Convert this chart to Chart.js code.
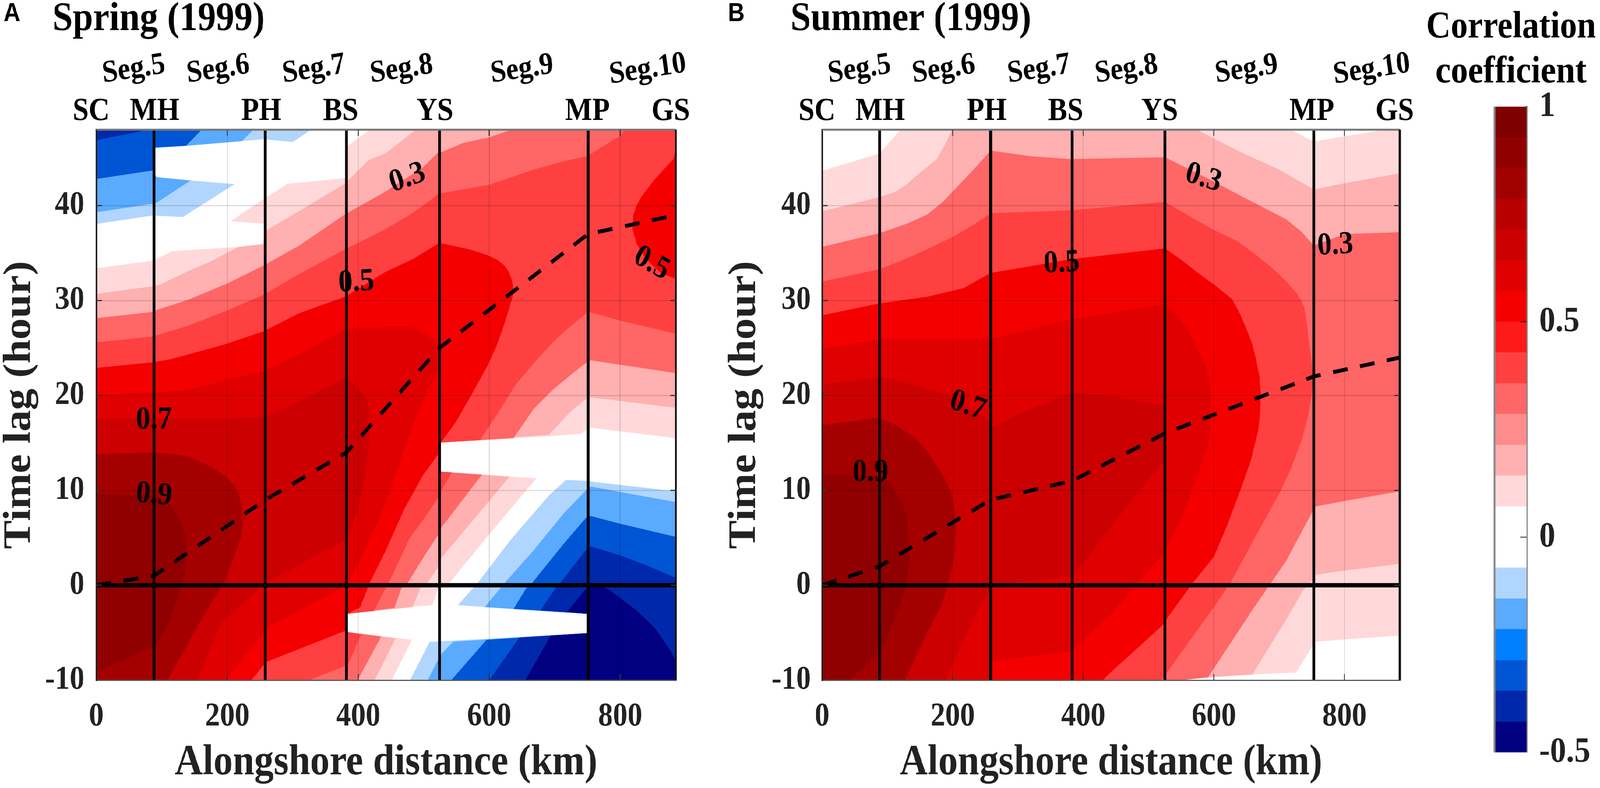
<!DOCTYPE html>
<html>
<head>
<meta charset="utf-8">
<style>
html,body{margin:0;padding:0;background:#fff;overflow:hidden}
#page{position:absolute;left:0;top:0;width:4550px;height:2017px;transform-origin:0 0}
canvas{position:absolute;top:0}
</style>
<script src="https://cdn.jsdelivr.net/npm/chart.js@4"></script>
</head>
<body>
<div id="page">
<canvas id="spring" width="2000" height="2017" style="left:0"></canvas>
<canvas id="summer" width="2040" height="2017" style="left:2000px"></canvas>
<canvas id="bar" width="510" height="2017" style="left:4040px"></canvas>
</div>
<script>
// The 4550-wide figure is fitted to whatever window width the browser really has.
document.getElementById('page').style.transform='scale('+(window.innerWidth/4550)+','+(window.innerHeight/2017)+')';

// ---- band colours (correlation levels)
const cL1='#ffd9d9',cL2='#ffb0b0',cL3='#ff6666',cL4='#ff4040',cL5='#f50000',cL6='#e00000',cL7='#cc0000',cL8='#a50000',cL9='#900000';
const cB1='#b0d5ff',cB2='#5aaaff',cB3='#0055d5',cB4='#0028aa',cB5='#000080';

// ---- Spring contour outlines [km, hour]
const springL1=[[0,33.4],[86,34.2],[116,35.2],[217,35.65],[257,35.95],[257,38.1],[205,38.35],[251,40.5],[292,42.3],[380,42.9],[381,46.1],[386,46.4],[418,48],[885,48],[885,15.5],[755,16.6],[749,16.4],[741,15.96],[691,15.7],[526,15.04],[526,11.96],[589,11.66],[672,11.27],[594,4.88],[540,0.3],[522,-0.4],[513,-2.1],[441,-2.5],[384,-3],[384,-4.93],[482,-5.74],[451,-10],[0,-10]];
const springL2=[[0,30.7],[86,31.5],[100,31.75],[140,33.1],[174,34.1],[217,35.65],[255,35.95],[257,37.3],[325,40.06],[379,42.3],[416,44.8],[441,45.5],[488,48],[885,48],[885,18.7],[755,19.8],[749,19.7],[725,18.35],[691,15.85],[526,15.04],[526,11.96],[589,11.66],[631,11.45],[526,2.8],[520,1.7],[506,0.3],[495,-0.25],[483,-2.3],[384,-3],[384,-4.93],[457,-5.6],[425,-10],[0,-10]];
const springL3=[[0,28.15],[86,28.8],[92,29],[140,30.07],[200,31.8],[255,33.67],[310,35.8],[380,39.1],[441,41.45],[498,44],[522,45.6],[526,45.6],[560,46.6],[600,47.2],[634,48],[885,48],[885,22.35],[755,23.7],[749,23.5],[725,22.2],[697,20.6],[668,18.6],[637,15.5],[526,15.04],[526,11.96],[589,11.66],[526,6],[522,5.3],[500,3],[476,0.3],[466,-0.25],[455,-2.4],[384,-3],[384,-4.93],[435,-5.4],[399,-10],[0,-10]];
const springL4=[[0,25.6],[86,26.2],[140,27.35],[200,28.96],[255,30.6],[310,32.8],[380,35.4],[441,37.5],[484,39.25],[522,41.2],[526,41.3],[600,42.2],[668,43.8],[715,44.7],[749,45.2],[775,46.3],[799,47.3],[807,48],[885,48],[885,26.5],[799,27.9],[755,28.75],[749,28.7],[725,27.35],[697,25.6],[668,23.4],[640,21.1],[611,17.9],[586,15.3],[526,15.04],[526,11.96],[543,11.9],[526,9.9],[522,9.2],[500,7],[478,4.9],[447,0.3],[441,-0.4],[424,-2.7],[384,-3],[384,-4.93],[404,-5.2],[384,-8.4],[380,-8.5],[325,-10],[0,-10]];
const springL5=[[0,22.9],[86,23.5],[112,23.8],[155,24.6],[197,25.4],[255,26.75],[310,28.67],[380,30.4],[441,33],[484,34.4],[522,36],[526,36.05],[569,35.4],[597,34.8],[612,34.3],[623,33.7],[630,33],[634,32.3],[637,31.2],[636,30.6],[634,30],[623,27.5],[611,25.2],[597,23.1],[574,20.2],[549,17.2],[526,15.04],[522,13.8],[498,11.5],[469,7.85],[441,3.5],[417,0.2],[403,-2.3],[384,-3],[380,-4.8],[259,-8.1],[237,-10],[0,-10]];
const springL5b=[[885,46],[881,44.9],[853,42.8],[833,41],[825,40],[820,39],[819,37.5],[825,36],[839,34.4],[862,32.9],[881,32.4],[885,32.3]];
const springL6=[[0,20.06],[83,20.3],[140,20.6],[200,21.7],[255,22.6],[310,24.3],[380,27],[441,27.2],[484,27.2],[506,26.3],[522,25.3],[524,23.5],[522,22.7],[498,19.5],[469,14],[441,8.5],[410,3.7],[382,0],[261,-4.5],[198,-10],[0,-10]];
const springL7=[[0,17.55],[83,17.55],[198,17.55],[259,17.8],[311,19.4],[380,21.8],[396,21.1],[410,20],[415,19],[417,17.9],[416,14.5],[407,10.4],[399,7.85],[380,4.77],[259,0.3],[191,-4],[153,-10],[0,-10]];
const springL8=[[0,13.8],[89,14],[140,13.6],[175,12.5],[197,11.5],[210,10.6],[217,9.7],[222,8.4],[224,7],[223,5.9],[220,4.9],[197,0.54],[157,-4],[109,-10],[0,-10]];
const springL9=[[0,9.6],[92,9.45],[108,8.8],[120,7.85],[130,6.5],[137,5.1],[138,3.5],[137,1.9],[129,-0.4],[112,-3.8],[92,-6.3],[0,-9.2]];
// Spring negative regions
const springTopB1a=[[0,38.07],[86,38.96],[132,38.8],[211,42.27],[144,42.65],[92,43],[86,43.7],[0,42.8]];
const springTopB2a=[[0,39.3],[86,40.2],[92,40.3],[144,42.65],[92,43],[86,43.7],[0,42.8]];
const springTopB1b=[[137,46.3],[222,46.8],[255,47],[300,46.7],[328,48],[161,48]];
const springTopB2b=[[137,46.3],[222,46.8],[240,48],[161,48]];
const springTopB3=[[0,42.8],[86,43.7],[88,46.1],[137,46.3],[161,48],[0,48]];
const springTopB4=[[0,46.9],[80,48],[0,48]];
const springLowB1=[[885,9.9],[755,10.93],[749,11],[717,11.1],[691,9.45],[634,4.9],[583,0.3],[552,-2.1],[749,-3],[749,-5.05],[509,-5.97],[479,-10],[885,-10]];
const springLowB2=[[885,8.76],[755,10.4],[749,10.1],[714,7.6],[668,3.7],[623,0.2],[593,-2.3],[749,-3],[749,-5.05],[545,-5.95],[526,-7.3],[506,-10],[885,-10]];
const springLowB3=[[885,5.1],[799,6.5],[755,7.3],[749,7.2],[714,4.4],[665,0.2],[657,-0.25],[637,-2.5],[749,-3],[749,-5.05],[596,-5.74],[542,-10],[885,-10]];
const springLowB4=[[885,0.77],[840,2.1],[799,3.17],[755,4.1],[749,3.85],[709,0.3],[702,-0.25],[678,-2.65],[749,-3],[749,-5.05],[646,-5.5],[600,-10],[885,-10]];
const springLowB5=[[755,0.3],[782,-0.4],[825,-2.65],[853,-4.5],[876,-6.8],[885,-8],[885,-10],[655,-10],[694,-5.3],[749,-5.05],[749,-3],[719,-2.8],[749,-0.25]];

// ---- Summer contour outlines [km, hour]
const summerL1=[[0,43.67],[88,45.5],[102,46.6],[120,48],[718,48],[753,46.74],[800,47.3],[862,48],[885,48],[885,-5.3],[802,-5.7],[755,-5.96],[751,-6.4],[726,-9.2],[659,-9.4],[591,-9.7],[550,-10],[0,-10]];
const summerL2=[[0,39.4],[88,40.9],[110,41.4],[127,42.1],[152,43.6],[175,44.85],[188,46.4],[199,48],[574,48],[642,45.6],[700,43.8],[753,41.7],[800,42.36],[885,43.4],[885,2.26],[802,1.57],[755,1.1],[751,0.54],[736,-0.6],[711,-3.6],[659,-9.4],[591,-9.7],[550,-10],[0,-10]];
const summerL3=[[0,35.66],[88,37.1],[130,38.1],[161,39.07],[185,40.4],[203,41.7],[232,43.8],[258,45.8],[320,45.2],[381,44.9],[525,45.1],[594,42.75],[642,41],[711,38.55],[735,37.2],[753,35.8],[800,37],[885,37.2],[885,9.9],[802,8.9],[755,8.3],[751,7.75],[711,2.6],[687,0.2],[660,-2.5],[591,-9.7],[550,-10],[0,-10]];
const summerL4=[[0,32],[88,33.3],[125,34.3],[161,35.4],[203,36.8],[232,38],[258,39.2],[381,39.5],[525,40.4],[565,38.8],[601,37.4],[635,36.3],[663,34.9],[690,33.4],[711,32],[728,30.7],[738,29.4],[743,27.4],[746,25.4],[749,24],[751,22.5],[751,21],[749,19.7],[744,17.7],[736,15.6],[720,12.6],[702,9.9],[662,4.9],[625,0.2],[598,-2.5],[525,-9.5],[520,-10],[0,-10]];
const summerL5=[[0,28.45],[88,29.7],[161,30.4],[216,31.3],[258,32.9],[381,34.35],[525,35.5],[550,34.3],[574,33],[602,31.6],[628,30.15],[640,28.6],[650,27],[659,25.4],[665,23.7],[670,22],[672,20.2],[671,18.2],[668,16.3],[656,13],[640,9.9],[621,6.4],[600,3],[565,0],[525,-3.8],[521,-4.25],[440,-9.3],[430,-10],[0,-10]];
const summerL6=[[0,24.9],[88,25.95],[258,25.95],[381,28],[525,29.6],[546,28.3],[560,26.9],[571,25.4],[588,23.15],[593,21.7],[595,20.2],[595,16.3],[590,14.6],[582,12.9],[554,7.6],[525,3.5],[445,-2.9],[403,-5.6],[382,-7],[262,-8],[258,-10],[0,-10]];
const summerL7=[[0,21.1],[90,22],[141,21.1],[192,20.06],[249,17.7],[261,16.75],[312,18.35],[382,20.3],[440,20],[523,18.9],[523,13.1],[483,9.7],[440,6],[403,2.6],[382,0.9],[261,0.1],[255,-0.4],[225,-4.5],[189,-10],[0,-10]];
const summerL8=[[0,16.87],[87,17.67],[115,16.8],[141,15.6],[160,14.2],[175,12.65],[188,11.2],[198,9.7],[203,8],[205,6],[203,3.7],[198,1.46],[184,-1.97],[158,-5.4],[127,-10],[0,-10]];
const summerL9=[[0,11.7],[87,11.5],[100,11],[112,9.9],[123,8.6],[130,7.2],[133,5],[134,2.6],[132,1.1],[128,-0.25],[112,-3.6],[90,-7],[41,-10],[0,-10]];

// ---- lag lines, segment boundaries, labels
const springLagKm=[0,88,258,382,524,751,885], springLagHour=[0,1,9,14,25,37,39];
const summerLagKm=[0,88,258,383,525,753,885], summerLagHour=[0,2,9,11,16,22,24];
const springBoundaryKm=[88,258,382,524,751];
const summerBoundaryKm=[88,258,383,525,753];
const stationNames=['SC','MH','PH','BS','YS','MP','GS'];
const stationLabelKm=[-8,89,252,373,517,750,877];
const segmentNames=['Seg.5','Seg.6','Seg.7','Seg.8','Seg.9','Seg.10'];
const segmentLabelKm=[57,186,332,466,650,842];
const springContourLabels=[['0.3',475,42.9,-18],['0.5',397,31.9,-3],['0.5',848,33.9,28],['0.7',88,17.4,0],['0.9',88,9.5,4]];
const summerContourLabels=[['0.3',584,42.9,16],['0.3',786,35.8,-3],['0.5',367,33.9,-3],['0.7',223,18.9,18],['0.9',74,11.85,0]];

// ---- colour bar
const barEdges=[-0.5,-0.429,-0.357,-0.286,-0.214,-0.143,-0.071,0,0.071,0.143,0.214,0.286,0.357,0.429,0.5,0.571,0.643,0.714,0.786,0.857,0.929,1];
const barColours=['#000080','#0028aa','#0055d5','#0080ff','#5aaaff','#b0d5ff','#ffffff','#ffffff','#ffd9d9','#ffb0b0','#ff8c8c','#ff6666','#ff4040','#ff1a1a','#f50000','#e00000','#cc0000','#b80000','#a00000','#900000','#7f0000'];
const barTicks=[-0.5,0,0.5,1];

const SERIF='"Liberation Serif"';
const INK='#222';

function poly(points,colour){
  return {data:points.map(p=>({x:p[0],y:p[1]})),showLine:true,fill:'shape',backgroundColor:colour,
    borderWidth:0,borderColor:colour,borderDash:[1,0],pointRadius:0,tension:0};
}
function stroke(xs,ys,width,dash){
  return {data:xs.map((x,i)=>({x:x,y:ys[i]})),showLine:true,fill:false,borderColor:'#000',borderWidth:width,
    borderDash:dash||[],pointRadius:0,tension:0,borderCapStyle:'butt'};
}
function drawText(ctx,text,x,y,font,color,rot,align){
  ctx.save();ctx.translate(x,y);ctx.rotate((rot||0)*Math.PI/180);
  ctx.font=font;ctx.fillStyle=color;ctx.textAlign=align||'center';ctx.textBaseline='middle';
  ctx.fillText(text,0,0);ctx.restore();
}
const panelPlugin={
  id:'panelPlugin',
  afterDraw(chart,args,o){
    const ctx=chart.ctx,xs=chart.scales.x,ys=chart.scales.y,a=chart.chartArea;
    ctx.save();
    ctx.strokeStyle='#777';ctx.lineWidth=5;
    ctx.beginPath();ctx.moveTo(a.left,a.top);ctx.lineTo(a.right,a.top);ctx.stroke();
    ctx.strokeStyle='#111';ctx.lineWidth=o.rightWidth;
    ctx.beginPath();ctx.moveTo(a.right,a.top);ctx.lineTo(a.right,a.bottom);ctx.stroke();
    ctx.strokeStyle='#333';ctx.lineWidth=3;
    [200,400,600,800].forEach(v=>{const p=xs.getPixelForValue(v);
      ctx.beginPath();ctx.moveTo(p,a.top);ctx.lineTo(p,a.top+16);ctx.moveTo(p,a.bottom);ctx.lineTo(p,a.bottom-16);ctx.stroke();});
    [0,10,20,30,40].forEach(v=>{const p=ys.getPixelForValue(v);
      ctx.beginPath();ctx.moveTo(a.left,p);ctx.lineTo(a.left+16,p);ctx.moveTo(a.right,p);ctx.lineTo(a.right-16,p);ctx.stroke();});
    ctx.restore();
    stationNames.forEach((n,i)=>drawText(ctx,n,xs.getPixelForValue(stationLabelKm[i]),a.top-46,'bold 82px '+SERIF,'#000',0));
    segmentNames.forEach((n,i)=>drawText(ctx,n,xs.getPixelForValue(segmentLabelKm[i]),a.top-154,'bold 80px '+SERIF,'#000',-8));
    o.contourLabels.forEach(l=>drawText(ctx,l[0],xs.getPixelForValue(l[1]),ys.getPixelForValue(l[2]),'bold 82px '+SERIF,'#000',l[3]));
    drawText(ctx,o.title,o.titleX,50,'bold 104px '+SERIF,'#000',0,'left');
    drawText(ctx,o.letter,o.letterX,36,'bold 66px "Liberation Sans"','#000',0,'left');
  }
};
function panel(id,datasets,plotLeft,plotRight,canvasW,titleLeft,tickPad,extra){
  return new Chart(document.getElementById(id),{
    type:'scatter',
    data:{datasets:datasets.slice().reverse()},
    plugins:[panelPlugin],
    options:{
      responsive:false,animation:false,devicePixelRatio:1,
      layout:{padding:{top:332,right:canvasW-plotRight,left:0,bottom:0}},
      plugins:{legend:{display:false},tooltip:{enabled:false},panelPlugin:extra},
      scales:{
        x:{type:'linear',min:0,max:885,
          afterFit:s=>{s.height=276;},
          ticks:{stepSize:200,includeBounds:false,maxRotation:0,padding:44,color:INK,font:{family:SERIF,weight:'bold',size:84}},
          grid:{color:'rgba(0,0,0,0.13)',lineWidth:3,drawTicks:false,z:1},
          border:{color:'#666',width:3,z:1},
          title:{display:true,text:'Alongshore distance (km)',color:INK,padding:{top:0,bottom:8},font:{family:SERIF,weight:'bold',size:110,lineHeight:1}}},
        y:{type:'linear',min:-10,max:48,
          afterFit:s=>{s.width=plotLeft;},
          ticks:{stepSize:10,includeBounds:false,padding:tickPad,color:INK,font:{family:SERIF,weight:'bold',size:84}},
          grid:{color:'rgba(0,0,0,0.13)',lineWidth:3,drawTicks:false,z:1},
          border:{color:'#222',width:5,z:1},
          title:{display:true,text:'Time lag (hour)',color:INK,padding:{top:titleLeft,bottom:0},font:{family:SERIF,weight:'bold',size:110,lineHeight:1}}}
      }
    }
  });
}
const springSets=[
  poly(springL1,cL1),poly(springL2,cL2),poly(springL3,cL3),poly(springL4,cL4),poly(springL5,cL5),poly(springL5b,cL5),
  poly(springL6,cL6),poly(springL7,cL7),poly(springL8,cL8),poly(springL9,cL9),
  poly(springTopB1a,cB1),poly(springTopB2a,cB2),poly(springTopB1b,cB1),poly(springTopB2b,cB2),poly(springTopB3,cB3),poly(springTopB4,cB4),
  poly(springLowB1,cB1),poly(springLowB2,cB2),poly(springLowB3,cB3),poly(springLowB4,cB4),poly(springLowB5,cB5)
];
springBoundaryKm.forEach(k=>springSets.push(stroke([k,k],[-10,48],8)));
springSets.push(stroke([0,885],[0,0],11));
springSets.push(stroke(springLagKm,springLagHour,10,[42,36]));

const summerSets=[
  poly(summerL1,cL1),poly(summerL2,cL2),poly(summerL3,cL3),poly(summerL4,cL4),poly(summerL5,cL5),
  poly(summerL6,cL6),poly(summerL7,cL7),poly(summerL8,cL8),poly(summerL9,cL9)
];
summerBoundaryKm.forEach(k=>summerSets.push(stroke([k,k],[-10,48],8)));
summerSets.push(stroke([0,885],[0,0],11));
summerSets.push(stroke(summerLagKm,summerLagHour,10,[42,36]));

panel('spring',springSets,274,1922,2000,2,34,{title:'Spring (1999)',titleX:149,letter:'A',letterX:10,contourLabels:springContourLabels,rightWidth:5});
panel('summer',summerSets,338,1981,2040,64,32,{title:'Summer (1999)',titleX:248,letter:'B',letterX:70,contourLabels:summerContourLabels,rightWidth:7});

// colour bar
const barPlugin={
  id:'barPlugin',
  afterDraw(chart){
    const ctx=chart.ctx,a=chart.chartArea,ys=chart.scales.y;
    ctx.save();
    ctx.strokeStyle='#888';ctx.lineWidth=5;
    ctx.beginPath();ctx.moveTo(a.left,a.top);ctx.lineTo(a.left,a.bottom);ctx.stroke();
    ctx.strokeStyle='#222';ctx.lineWidth=2;
    [0,0.5].forEach(v=>{const p=ys.getPixelForValue(v);ctx.beginPath();ctx.moveTo(a.right,p);ctx.lineTo(a.right-18,p);ctx.stroke();});
    ctx.restore();
    drawText(ctx,'Correlation',257,71,'bold 97px '+SERIF,'#000',0);
    drawText(ctx,'coefficient',257,186,'bold 98px '+SERIF,'#000',0);
  }
};
new Chart(document.getElementById('bar'),{
  type:'bar',
  data:{labels:[''],datasets:barColours.map((c,i)=>({data:[[barEdges[i],barEdges[i+1]]],backgroundColor:c,borderWidth:0,barPercentage:1,categoryPercentage:1,grouped:false}))},
  plugins:[barPlugin],
  options:{
    responsive:false,animation:false,devicePixelRatio:1,
    layout:{padding:{top:273,left:210,right:0,bottom:89}},
    plugins:{legend:{display:false},tooltip:{enabled:false}},
    scales:{
      x:{display:false},
      y:{position:'right',min:-0.5,max:1,
        afterBuildTicks:s=>{s.ticks=barTicks.map(v=>({value:v}));},
        afterFit:s=>{s.width=209;},
        ticks:{padding:36,color:INK,callback:v=>String(v),font:{family:SERIF,weight:'bold',size:92}},
        grid:{display:false,drawTicks:false},
        border:{color:'#888',width:5}}
    }
  }
});
</script>
</body>
</html>
